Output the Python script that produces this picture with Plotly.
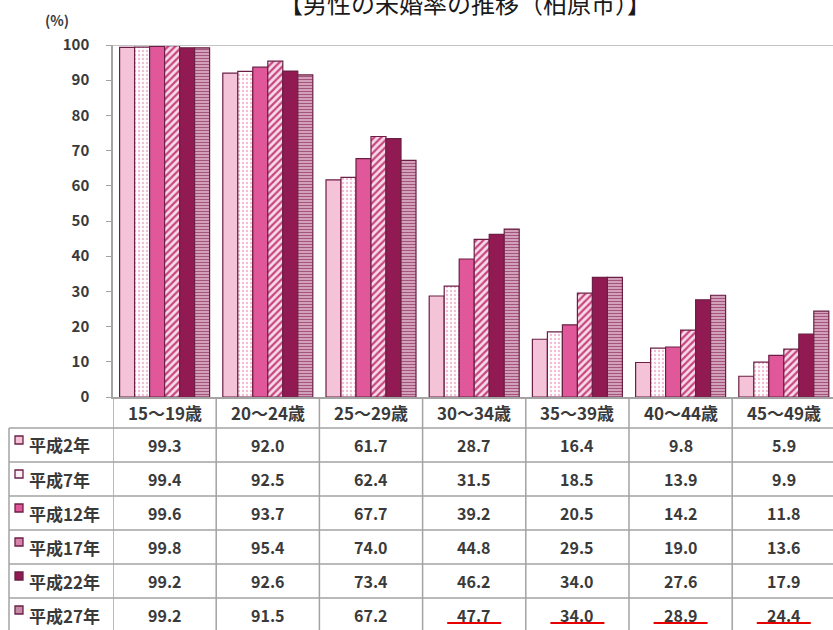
import plotly.graph_objects as go

# Age groups (columns) and survey years (series)
categories = ["15～19歳", "20～24歳", "25～29歳", "30～34歳", "35～39歳", "40～44歳", "45～49歳"]
series_names = ["平成2年", "平成7年", "平成12年", "平成17年", "平成22年", "平成27年"]

h02 = [99.3, 92.0, 61.7, 28.7, 16.4, 9.8, 5.9]
h07 = [99.4, 92.5, 62.4, 31.5, 18.5, 13.9, 9.9]
h12 = [99.6, 93.7, 67.7, 39.2, 20.5, 14.2, 11.8]
h17 = [99.8, 95.4, 74.0, 44.8, 29.5, 19.0, 13.6]
h22 = [99.2, 92.6, 73.4, 46.2, 34.0, 27.6, 17.9]
h27 = [99.2, 91.5, 67.2, 47.7, 34.0, 28.9, 24.4]
series_values = [h02, h07, h12, h17, h22, h27]

# Latest-year cells that get a red underline in the data table
underlined = ["30～34歳", "35～39歳", "40～44歳", "45～49歳"]

y_ticks = list(range(0, 101, 10))

OUTLINE = "#6b1f45"
styles = [
    dict(color="#f4c3d8"),
    dict(color="#ffffff", pattern=dict(shape=".", fgcolor="#f2bcd4", bgcolor="#ffffff", size=4, solidity=0.28, fillmode="replace")),
    dict(color="#e0589a"),
    dict(color="#f7dbe7", pattern=dict(shape="/", fgcolor="#c84581", bgcolor="#f7dbe7", size=5, solidity=0.45, fillmode="replace")),
    dict(color="#921a53"),
    dict(color="#d4a2ba", pattern=dict(shape="-", fgcolor="#a4547d", bgcolor="#dcb0c4", size=3, solidity=0.45, fillmode="replace")),
]
legend_fill = ["#f4c3d8", "#fbeef4", "#e0589a", "#d682aa", "#921a53", "#c48aa6"]

W, H = 833, 630
L, R, T, B = 113, 0, 45, 233
PW, PH = W - L - R, H - T - B
GROUP_PX = 103.2


def xp(px):
    return (px - L) / PW


def yp(py):
    return (H - B - py) / PH


fig = go.Figure()
for name, vals, st in zip(series_names, series_values, styles):
    fig.add_trace(go.Bar(
        name=name, x=categories, y=vals,
        marker=dict(line=dict(color=OUTLINE, width=1.2), **st),
    ))

shapes = []
annotations = []

GRID = "#a3a3a3"
# line along the 100% level
shapes.append(dict(type="line", xref="paper", yref="y", x0=0, x1=1, y0=100, y1=100,
                   line=dict(color="#c4c4c4", width=2)))

# data table below the axis
row_lines = [428, 462, 496, 530, 564, 598, 632]
for i in range(len(categories) + 1):
    shapes.append(dict(type="line", xref="x", yref="paper", x0=i - 0.5, x1=i - 0.5,
                       y0=yp(397), y1=yp(640), line=dict(color=GRID, width=1.5)))
shapes.append(dict(type="line", xref="paper", yref="paper", x0=xp(9), x1=xp(9),
                   y0=yp(row_lines[0]), y1=yp(640), line=dict(color=GRID, width=1.5)))
for ry in row_lines:
    shapes.append(dict(type="line", xref="paper", yref="paper", x0=xp(9), x1=1.01,
                       y0=yp(ry), y1=yp(ry), line=dict(color=GRID, width=1.5)))

TXT = "#3a3a3a"
FONT = "Noto Sans CJK JP"
for c in categories:
    annotations.append(dict(x=c, xref="x", y=yp(412), yref="paper", text=c, showarrow=False,
                            font=dict(family=FONT, size=17, color=TXT, weight="bold"),
                            xanchor="center", yanchor="middle"))

for r, (name, vals) in enumerate(zip(series_names, series_values)):
    cy = (row_lines[r] + row_lines[r + 1]) / 2
    annotations.append(dict(x=xp(27), xref="paper", y=yp(cy), yref="paper", text=name,
                            showarrow=False, font=dict(family=FONT, size=17, color=TXT, weight="bold"),
                            xanchor="left", yanchor="middle"))
    shapes.append(dict(type="rect", xref="paper", yref="paper", x0=xp(15), x1=xp(23),
                       y0=yp(cy - 1), y1=yp(cy - 9), fillcolor=legend_fill[r],
                       line=dict(color=OUTLINE, width=1.3)))
    for c, v in zip(categories, vals):
        annotations.append(dict(x=c, xref="x", y=yp(cy), yref="paper", text=f"{v:.1f}",
                                showarrow=False, font=dict(family=FONT, size=16, color=TXT, weight="bold"),
                                xanchor="center", yanchor="middle"))

# red underlines under the latest-year values
last_row_y = (row_lines[-2] + row_lines[-1]) / 2
for c in underlined:
    i = categories.index(c)
    half = 27 / GROUP_PX
    shapes.append(dict(type="line", xref="x", yref="paper", x0=i - half, x1=i + half,
                       y0=yp(last_row_y + 8), y1=yp(last_row_y + 8),
                       line=dict(color="#e60000", width=2)))

# title and unit label
annotations.append(dict(x=xp(465), xref="paper", y=yp(2), yref="paper",
                        text="【男性の未婚率の推移（柏原市）】", showarrow=False,
                        font=dict(family=FONT, size=24, color="#1a1a1a"),
                        xanchor="center", yanchor="middle"))
annotations.append(dict(x=xp(57), xref="paper", y=yp(20), yref="paper", text="(%)",
                        showarrow=False, font=dict(family=FONT, size=14, color=TXT, weight="bold"),
                        xanchor="center", yanchor="middle"))

fig.update_layout(
    width=W, height=H,
    margin=dict(l=L, r=R, t=T, b=B, pad=0),
    paper_bgcolor="white", plot_bgcolor="white",
    barmode="group", bargap=0.128, bargroupgap=0,
    showlegend=False,
    shapes=shapes, annotations=annotations,
    font=dict(family=FONT),
)
fig.update_xaxes(range=[-0.5, -0.5 + PW / GROUP_PX], showticklabels=False, ticks="",
                 showline=True, linecolor=GRID, linewidth=1.5, showgrid=False, zeroline=False)
fig.update_yaxes(range=[0, 100], tickvals=y_ticks, ticks="outside", ticklen=5, tickcolor=GRID,
                 showline=True, linecolor=GRID, linewidth=1.5, showgrid=False, zeroline=False,
                 ticklabelstandoff=14, tickfont=dict(family=FONT, size=15, color=TXT, weight="bold"))

fig.write_html("out.html")
